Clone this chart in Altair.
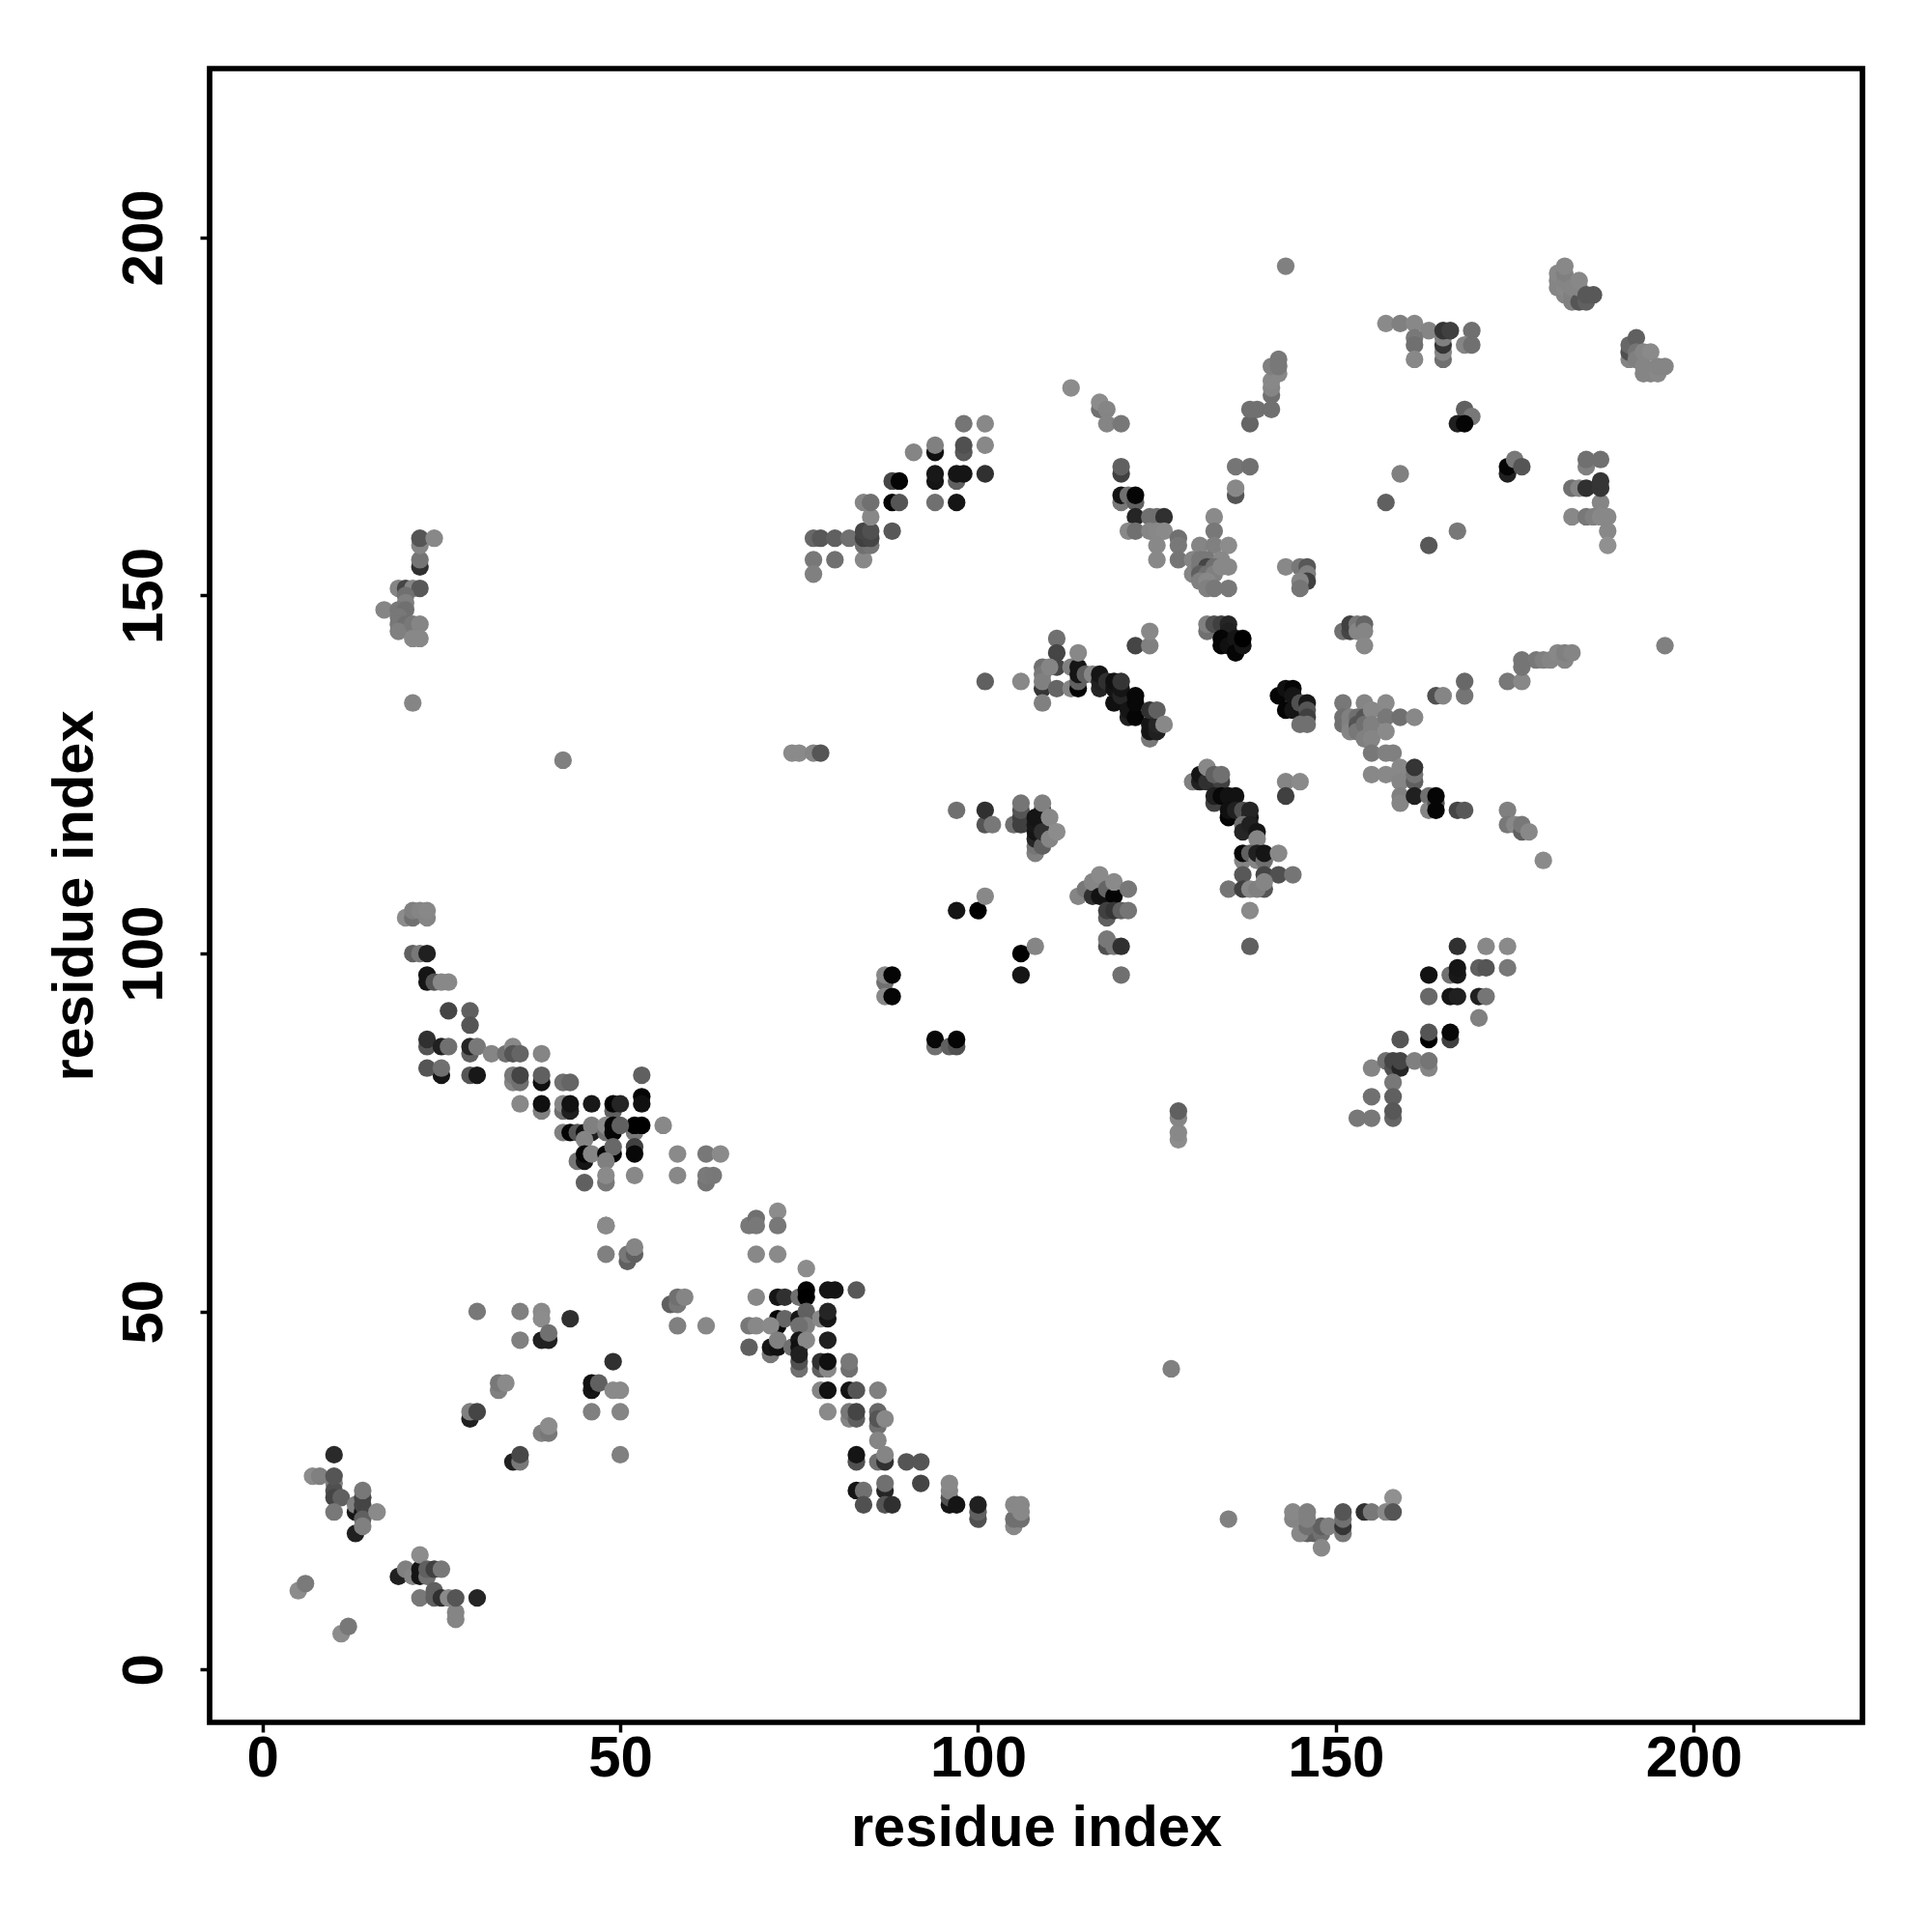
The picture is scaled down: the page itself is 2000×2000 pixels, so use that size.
import altair as alt
import pandas as pd

# (residue i, residue j, gray level), grouped by region
corner = [(5,11,0x8c),(6,12,0x7a),(11,5,0x8c),(12,6,0x78),(10,30,0x2a),(7,27,0x8c),(8,27,0x80),(10,26,0x80),(10,25,0x50),(10,24,0x45),(10,27,0x55),(11,24,0x60),(10,22,0x78),
(13,19,0x20),(13,22,0x15),(13,23,0x80),(14,22,0x15),(14,23,0x45),(14,24,0x45),(14,21,0x60),(14,20,0x80),(14,25,0x78),(16,22,0x8a),
(19,13,0x20),(20,14,0x80),(21,13,0x85),(22,14,0x15),(22,13,0x15),(22,16,0x8c),(23,13,0x70),(23,14,0x60),(24,14,0x40),(25,14,0x78),
(22,10,0x78),(24,11,0x60),(24,10,0x60),(25,10,0x30),(26,10,0x8a),(27,8,0x85),(27,7,0x85),(27,10,0x55),(30,10,0x25)]

sheet_low = [(29,35,0x20),(29,36,0x80),(30,36,0x45),(35,29,0x20),(36,29,0x78),(36,30,0x48),(33,39,0x80),(33,40,0x78),(34,40,0x8a),
(39,33,0x80),(40,33,0x78),(40,34,0x8c),(30,50,0x78),(36,50,0x80),(36,46,0x80),(39,50,0x8a),(39,49,0x8c),(43,49,0x30),(39,46,0x20),(40,46,0x20),(40,47,0x70),
(46,39,0x15),(46,40,0x10),(47,40,0x60),(49,43,0x30),(49,39,0x8a),(50,39,0x8a),(46,36,0x80),(50,36,0x85),(50,30,0x80),
(48,62,0x85),(48,58,0x80),(51,57,0x60),(51,58,0x78),(52,58,0x60),(52,59,0x85),(57,51,0x60),(58,51,0x78),(58,52,0x70),(59,52,0x85),(58,48,0x80),(62,48,0x88)]

helix_a = [(68,62,0x78),(69,63,0x70),(69,62,0x78),(72,64,0x8c),(72,62,0x78),(69,58,0x88),(72,58,0x8a),(76,56,0x8c),
(69,52,0x88),(72,52,0x15),(73,52,0x30),(75,52,0x70),(76,53,0x05),(76,52,0x00),(79,53,0x15),(80,53,0x15),(83,53,0x58),
(72,49,0x05),(72,48,0x05),(73,49,0x65),(75,49,0x15),(76,49,0x10),(76,50,0x60),(76,48,0x80),(78,49,0x88),(79,49,0x15),(79,50,0x25),
(68,48,0x78),(69,48,0x88),(71,48,0x8a),(75,48,0x70),(71,44,0x78),(68,45,0x60),(71,45,0x15),(72,45,0x10),(72,46,0x80),(74,45,0x70),(75,46,0x15),(75,45,0x10),(76,46,0x88),(79,46,0x20),
(75,42,0x70),(75,43,0x50),(75,44,0x20),(78,42,0x60),(78,43,0x30),(79,42,0x88),(79,43,0x10),(82,42,0x70),(82,43,0x78),
(78,39,0x85),(79,39,0x12),(82,39,0x15),(83,39,0x55),(86,39,0x80),(79,36,0x8a),(82,35,0x85),(82,36,0x78),(83,35,0x60),(83,36,0x45),(86,34,0x70),(86,36,0x68),(86,35,0x55),(87,35,0x88),(86,32,0x85)]

helix_b = [(83,29,0x50),(83,30,0x15),(86,29,0x70),(87,29,0x30),(87,30,0x85),(90,29,0x55),(92,29,0x55),(92,26,0x45),
(83,25,0x15),(84,25,0x70),(84,23,0x50),(87,25,0x25),(87,26,0x70),(87,23,0x55),(88,23,0x30),(96,23,0x15),(96,24,0x50),(96,25,0x85),(96,26,0x88),(97,23,0x15),
(100,21,0x50),(100,22,0x60),(100,23,0x20),(105,20,0x88),(105,21,0x70),(106,21,0x70),(106,22,0x88),(105,23,0x88),(106,23,0x88),(127,42,0x80),(135,21,0x80),
(146,19,0x60),(147,19,0x60),(148,19,0x70),(145,19,0x88),(146,20,0x70),(148,20,0x60),(149,20,0x80),(148,17,0x88),(144,21,0x85),(144,22,0x88),(146,21,0x80),(146,22,0x80),
(151,19,0x78),(151,20,0x35),(151,21,0x70),(151,22,0x55),(154,22,0x30),(155,22,0x78),(157,22,0x88),(158,24,0x90),(158,22,0x55)]

diag_mid = [(20,105,0x8c),(21,105,0x70),(21,106,0x80),(22,106,0x85),(23,105,0x85),(23,106,0x88),(21,100,0x60),(22,100,0x78),(23,100,0x20),
(23,97,0x15),(23,96,0x15),(24,96,0x55),(25,96,0x88),(26,96,0x88),(26,92,0x45),(29,92,0x60),(29,90,0x55),
(23,87,0x55),(23,88,0x30),(25,87,0x20),(26,87,0x70),(29,86,0x60),(29,87,0x25),(30,87,0x78),(32,86,0x85),(34,86,0x70),(35,87,0x88),(35,86,0x55),(36,86,0x65),(39,86,0x85),
(25,83,0x15),(23,84,0x55),(25,84,0x70),(29,83,0x55),(30,83,0x18),(35,82,0x85),(35,83,0x78),(36,82,0x70),(36,83,0x45),(39,82,0x10),(39,83,0x60),(42,82,0x70),(43,82,0x65),
(36,79,0x88),(39,78,0x80),(39,79,0x10),(42,78,0x70),(42,79,0x85),(43,78,0x20),(43,79,0x12),(46,79,0x18),(49,78,0x60),(49,79,0x05),(50,79,0x25),
(53,83,0x60),(53,80,0x05),(53,79,0x10),(52,75,0x78),(52,76,0x00),(53,76,0x00),(56,76,0x88),(52,73,0x40),(52,72,0x08),(52,69,0x88),
(42,75,0x80),(43,75,0x05),(44,75,0x55),(45,75,0x10),(46,75,0x20),(46,76,0x80),(45,74,0x85),(48,75,0x70),(48,76,0x8a),(49,75,0x05),(49,76,0x05),(50,76,0x60),
(44,71,0x75),(45,71,0x15),(45,72,0x05),(46,72,0x85),(48,72,0x05),(49,72,0x05),(49,73,0x68),(48,71,0x80),(48,68,0x78),(48,69,0x8a),(45,68,0x60),
(58,72,0x8a),(62,72,0x78),(64,72,0x8a),(58,69,0x88),(62,68,0x75),(62,69,0x7a),(63,69,0x78),(48,62,0x8a)]

left_far = [(22,154,0x30),(22,155,0x75),(22,157,0x85),(22,158,0x55),(24,158,0x88),(19,151,0x85),(20,151,0x45),(21,151,0x85),(22,151,0x58),(20,150,0x70),(20,149,0x80),
(17,148,0x85),(19,148,0x78),(20,148,0x70),(19,147,0x78),(19,146,0x78),(20,146,0x70),(19,145,0x80),(21,146,0x78),(22,146,0x85),(21,144,0x88),(22,144,0x88),(21,135,0x85),(42,127,0x80),
(74,128,0x8a),(75,128,0x8a),(77,128,0x85),(78,128,0x55),(77,155,0x78),(80,155,0x70),(77,153,0x80)]

strand_a = [(77,158,0x68),(78,158,0x58),(80,158,0x60),(82,158,0x70),(84,155,0x88),(84,157,0x70),(85,157,0x75),(84,158,0x40),(85,158,0x45),(84,159,0x45),(85,159,0x50),(85,161,0x88),(84,163,0x85),(85,163,0x70),
(88,159,0x58),(88,163,0x05),(89,163,0x55),(88,166,0x45),(89,166,0x05),(91,170,0x85),(94,170,0x10),(94,171,0x80),(94,166,0x15),(94,167,0x18),(94,163,0x70),(97,166,0x60),(97,167,0x15),(98,167,0x15),(97,163,0x15),
(98,174,0x75),(101,174,0x88),(98,170,0x58),(98,171,0x50),(101,171,0x88),(101,167,0x30)]

upper_mid = [(113,179,0x8c),(117,176,0x70),(117,177,0x8c),(118,176,0x85),(118,174,0x85),(120,174,0x78),(120,167,0x40),(120,168,0x60),(120,163,0x78),(120,164,0x15),(121,164,0x70),(122,163,0x60),(122,164,0x05),
(122,161,0x25),(124,161,0x70),(125,161,0x70),(126,161,0x30),(121,159,0x88),(122,159,0x70),(124,159,0x85),(125,159,0x88),(126,159,0x8a),(125,157,0x88),(125,155,0x88),(128,158,0x70),(128,157,0x78),(128,155,0x75),
(136,168,0x75),(138,168,0x70),(136,164,0x55),(136,165,0x88),(133,161,0x8a),(133,159,0x78),(131,157,0x85),(133,157,0x80),(135,157,0x8c),(130,155,0x85),(131,155,0x78),(132,155,0x78),(134,155,0x88),
(130,153,0x85),(131,154,0x78),(132,154,0x45),(133,154,0x70),(131,153,0x60),(132,153,0x70),(133,153,0x80),(135,154,0x88),(134,154,0x88),(131,152,0x80),(132,152,0x88),(132,151,0x80),(133,151,0x78),(135,151,0x78),
(132,145,0x70),(132,146,0x80),(133,146,0x50),(134,146,0x40),(135,146,0x25),(135,145,0x20),(134,144,0x05),(134,143,0x05),(135,143,0x10),(136,144,0x15),(136,142,0x05),(137,143,0x15),(137,144,0x00)]

chain_a = [(101,138,0x60),(106,138,0x88),(109,137,0x35),(109,135,0x80),(109,140,0x70),(109,139,0x78),(109,138,0x80),(111,144,0x70),(111,142,0x45),(111,140,0x45),(110,140,0x85),(111,137,0x65),
(113,140,0x80),(113,137,0x85),(114,137,0x05),(114,138,0x60),(114,139,0x15),(114,140,0x15),(114,142,0x88),(115,139,0x60),(116,139,0x85),
(117,137,0x25),(117,138,0x20),(117,139,0x15),(118,138,0x30),(119,135,0x10),(119,137,0x15),(119,138,0x10),(120,136,0x25),(120,137,0x15),(120,138,0x35),(121,133,0x20),(121,134,0x15),(122,133,0x05),(122,135,0x08),(122,136,0x08),
(124,130,0x78),(124,131,0x15),(124,132,0x15),(125,131,0x20),(125,132,0x25),(124,134,0x30),(125,134,0x60),(126,132,0x88),(122,143,0x45),(124,143,0x80),(124,145,0x88)]

cluster_e = [(142,136,0x05),(143,137,0x10),(144,137,0x05),(143,134,0x05),(144,134,0x15),(144,136,0x15),(145,135,0x50),(146,135,0x18),(146,134,0x55),(146,133,0x40),(145,132,0x70),(146,132,0x70),
(151,135,0x78),(154,135,0x85),(157,135,0x8a),(151,133,0x70),(151,132,0x70),(152,133,0x80),(152,132,0x80),(152,131,0x85),(153,133,0x70),(153,132,0x55),(153,131,0x78),(154,133,0x55),(154,132,0x70),(154,130,0x80),
(155,134,0x88),(155,132,0x80),(155,131,0x80),(155,130,0x85),(157,133,0x78),(157,131,0x8a),(159,133,0x70),(161,133,0x88),(155,128,0x78),(157,128,0x80),(158,128,0x80),
(155,125,0x88),(157,125,0x88),(159,126,0x88),(159,125,0x88),(159,124,0x85),(159,122,0x80),(159,121,0x85),(161,124,0x60),(161,125,0x75),(161,126,0x35),(161,122,0x20),(163,122,0x70),(163,120,0x85),(164,121,0x55),(164,122,0x05),(164,120,0x05),(164,136,0x50),(165,136,0x85)]

chain_b = [(130,124,0x80),(131,124,0x20),(131,125,0x15),(132,124,0x30),(132,126,0x88),(133,124,0x30),(134,124,0x40),(133,125,0x60),(134,125,0x70),(133,121,0x40),(133,122,0x20),(134,122,0x08),(135,122,0x12),(136,122,0x12),
(135,119,0x05),(135,120,0x10),(136,120,0x20),(137,120,0x50),(138,119,0x15),(138,120,0x25),(137,118,0x70),(137,117,0x25),(138,118,0x20),(139,117,0x15),(139,116,0x85),
(137,113,0x85),(137,114,0x08),(138,114,0x60),(139,113,0x85),(139,114,0x20),(140,113,0x70),(140,114,0x15),(142,114,0x88),(137,111,0x58),(140,111,0x45),(142,111,0x50),(144,111,0x75),
(135,109,0x75),(137,109,0x40),(138,109,0x88),(140,109,0x55),(139,109,0x80),(140,110,0x85),(138,106,0x8a),(138,101,0x60),(143,124,0x85),(145,124,0x8a),(143,122,0x40)]

cluster_c = [(97,120,0x70),(101,118,0x55),(101,120,0x30),(102,118,0x78),(105,118,0x70),(106,118,0x40),(106,119,0x40),(106,120,0x55),(106,121,0x75),(108,114,0x80),(108,115,0x75),(108,116,0x25),(108,117,0x15),(108,118,0x18),(108,119,0x15),
(109,115,0x60),(109,117,0x30),(109,120,0x15),(109,121,0x80),(110,119,0x88),(110,116,0x85),(111,117,0x8c),
(114,108,0x85),(115,109,0x78),(116,108,0x30),(116,110,0x85),(117,108,0x12),(117,111,0x8a),(118,108,0x12),(118,109,0x65),(119,108,0x05),(119,110,0x8a),(121,109,0x78),
(118,105,0x60),(118,106,0x40),(119,106,0x35),(120,106,0x60),(121,106,0x75),(118,101,0x50),(118,102,0x78),(119,101,0x78),(120,101,0x30),(120,97,0x70),
(97,106,0x15),(100,106,0x00),(101,108,0x88),(106,100,0x00),(108,101,0x85),(106,97,0x15),(94,87,0x70),(94,88,0x08),(96,87,0x60),(97,87,0x50),(97,88,0x05),
(87,96,0x70),(87,97,0x88),(88,97,0x05),(87,94,0x88),(88,94,0x05),(128,74,0x8c),(128,75,0x88),(128,77,0x85),(128,78,0x60)]

strand_b = [(167,101,0x30),(171,101,0x88),(174,101,0x8a),(166,97,0x70),(167,97,0x18),(167,98,0x15),(170,98,0x60),(171,98,0x55),(174,98,0x78),(163,97,0x12),(163,94,0x68),(166,94,0x15),(167,94,0x20),(170,94,0x20),(171,94,0x75),(170,91,0x80),
(163,88,0x00),(163,89,0x55),(166,88,0x40),(166,89,0x08),(159,88,0x55),(155,84,0x85),(157,85,0x70),(158,84,0x50),(158,85,0x45),(159,84,0x25),(159,85,0x45),(161,85,0x80),(163,84,0x85),(163,85,0x75),
(158,82,0x78),(155,80,0x70),(158,80,0x60),(158,77,0x65),(158,78,0x58),(153,77,0x78),(155,77,0x78)]

upper_right = [(143,196,0x80),(157,188,0x8a),(159,188,0x80),(161,188,0x88),(163,187,0x85),(161,186,0x78),(161,185,0x70),(161,183,0x88),(165,183,0x70),(165,184,0x85),(165,185,0x35),(165,186,0x80),(165,187,0x35),(166,187,0x40),(169,187,0x70),(168,185,0x85),(169,185,0x70),
(138,174,0x65),(139,176,0x70),(138,176,0x70),(141,176,0x70),(141,178,0x70),(141,179,0x85),(141,180,0x88),(142,181,0x88),(141,182,0x80),(142,182,0x78),(142,183,0x78),
(163,157,0x58),(167,159,0x78),(159,167,0x80),(157,163,0x60),(168,176,0x60),(169,175,0x78),(167,174,0x20),(168,174,0x05),(174,167,0x20),(174,168,0x05),(175,169,0x78),(176,168,0x55),
(185,168,0x80),(185,169,0x70),(187,169,0x70),(183,165,0x70),(184,165,0x85),(185,165,0x30),(187,163,0x85),(187,165,0x35),(187,166,0x35),(183,161,0x88),(185,161,0x78),(186,161,0x80),(187,161,0x88),(188,161,0x88),(188,159,0x88),(188,157,0x90),
(181,193,0x85),(181,194,0x85),(181,195,0x88),(182,192,0x85),(182,193,0x88),(182,194,0x85),(182,195,0x80),(182,196,0x88),(183,191,0x80),(183,192,0x80),(183,193,0x85),(184,191,0x55),(184,193,0x85),(184,194,0x88),(185,191,0x60),(185,192,0x58),(186,192,0x58),
(191,183,0x85),(191,184,0x50),(191,185,0x68),(192,186,0x60),(192,184,0x75),(192,183,0x80),(193,184,0x85),(194,184,0x8a),(193,182,0x85),(193,181,0x85),(194,181,0x85),(195,181,0x88),(195,182,0x85),(196,182,0x85)]

right_mid = [(196,143,0x80),(176,141,0x75),(178,141,0x78),(179,141,0x80),(180,141,0x85),(181,142,0x88),(182,141,0x85),(182,142,0x80),(183,142,0x85),(174,138,0x78),(176,138,0x88),(176,140,0x75),(168,136,0x75),(168,138,0x68),
(167,120,0x45),(168,120,0x58),(174,120,0x80),(174,118,0x78),(175,118,0x88),(176,117,0x60),(176,118,0x78),(177,117,0x88),(179,113,0x8a),
(143,154,0x88),(145,154,0x78),(146,154,0x58),(146,153,0x80),(146,152,0x40),(145,152,0x85),(145,151,0x75),
(151,145,0x70),(152,145,0x45),(152,146,0x40),(153,146,0x78),(153,145,0x85),(154,146,0x65),(154,145,0x85),(154,143,0x88)]

x_ticks = [0, 50, 100, 150, 200]
y_ticks = [0, 50, 100, 150, 200]
axis_title = "residue index"

rows = []
for group in [corner, sheet_low, helix_a, helix_b, diag_mid, left_far, strand_a, upper_mid, chain_a,
              cluster_e, chain_b, cluster_c, strand_b, upper_right, right_mid]:
    rows.extend(group)
df = pd.DataFrame(rows, columns=["i", "j", "g"])
df["shade"] = df["g"].map(lambda v: "#%02x%02x%02x" % (v, v, v))

FONT = "Liberation Sans"
x_axis = alt.Axis(values=x_ticks, title=axis_title, grid=False, domain=False, tickSize=10, tickWidth=3.5,
                  tickColor="black", labelFont=FONT, labelFontWeight="bold", labelFontSize=60, labelColor="black",
                  labelPadding=-2, titleFont=FONT, titleFontWeight="bold", titleFontSize=59.6, titleColor="black",
                  titlePadding=13, labelOverlap=False)
y_axis = alt.Axis(values=y_ticks, title=axis_title, grid=False, domain=False, tickSize=10, tickWidth=3.5,
                  tickColor="black", labelFont=FONT, labelFontWeight="bold", labelFontSize=60, labelColor="black",
                  labelAngle=270, labelAlign="center", labelBaseline="bottom", labelPadding=27,
                  titleFont=FONT, titleFontWeight="bold", titleFontSize=59.6, titleColor="black",
                  titlePadding=10.5, labelOverlap=False)

chart = (
    alt.Chart(df)
    .mark_circle(size=335, opacity=1)
    .encode(
        x=alt.X("i:Q", axis=x_axis, scale=alt.Scale(domain=[-7.39, 223.6], nice=False, zero=False)),
        y=alt.Y("j:Q", axis=y_axis, scale=alt.Scale(domain=[-7.39, 223.6], nice=False, zero=False)),
        color=alt.Color("shade:N", scale=None),
    )
    .properties(
        width=1711, height=1712,
        background="white",
        autosize=alt.AutoSizeParams(type="none"),
        padding={"left": 209, "top": 63, "right": 60, "bottom": 200},
    )
    .configure_view(stroke="black", strokeWidth=5.7, fill="white")
)

chart.save("out.html", embed_options={"renderer": "svg", "actions": False})
